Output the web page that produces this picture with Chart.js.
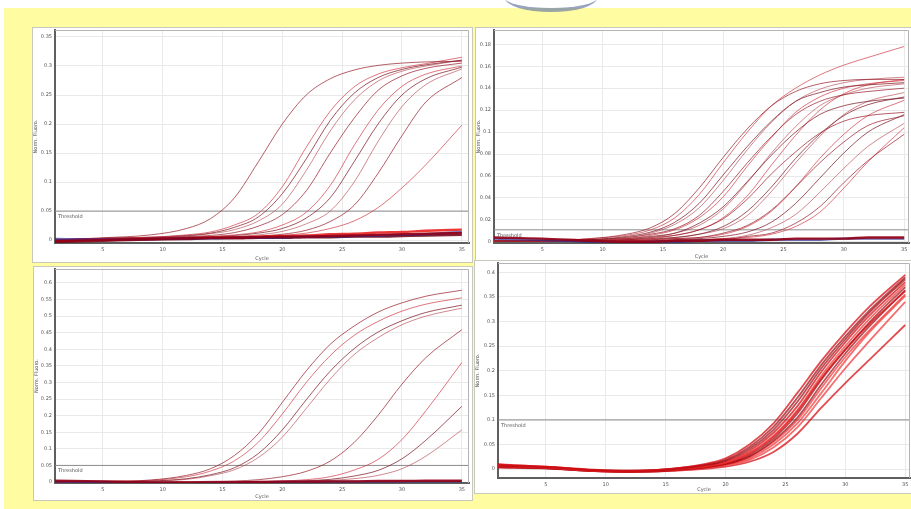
<!DOCTYPE html>
<html lang="en">
<head>
<meta charset="UTF-8">
<title>Amplification plots</title>
<script src="https://cdn.jsdelivr.net/npm/chart.js@4.4.0/dist/chart.umd.min.js"></script>
<style>
  html, body { margin: 0; padding: 0; width: 911px; height: 509px; overflow: hidden; background: #fff; }
  .backdrop { position: absolute; left: 4px; top: 8px; right: 0; bottom: 0; background: #fffca2; }
  .logo { position: absolute; left: 505px; top: -16px; width: 92px; height: 24px; border-radius: 50%;
          border-bottom: 4px solid #6f80a6; opacity: .7; }
  .panel { position: absolute; background: #fff; outline: 1px solid #c8c8bb; }
  .panel canvas { display: block; }
</style>
</head>
<body>
<div class="backdrop"></div>
<div class="logo"></div>

<div class="panel" style="left:33px; top:28px; width:439px; height:234px;"><canvas id="p1"></canvas></div>
<div class="panel" style="left:476px; top:28px; width:435px; height:232px;"><canvas id="p2"></canvas></div>
<div class="panel" style="left:34px; top:267px; width:438px; height:233px;"><canvas id="p3"></canvas></div>
<div class="panel" style="left:475px; top:261px; width:436px; height:232px;"><canvas id="p4"></canvas></div>

<script>
var cycles = [1, 5, 9, 12, 14, 16, 18, 20, 22, 24, 26, 28, 30, 32, 35];
var xTicks = [5, 10, 15, 20, 25, 30, 35];

// top left
var p1Ticks = [0, 0.05, 0.1, 0.15, 0.2, 0.25, 0.3, 0.35];
var p1Threshold = 0.05;
var p1Curves = [
  [0.0, 0.004, 0.009, 0.02, 0.037, 0.073, 0.135, 0.2, 0.25, 0.278, 0.293, 0.301, 0.305, 0.307, 0.308],
  [0.0, 0.003, 0.005, 0.009, 0.014, 0.026, 0.046, 0.092, 0.16, 0.222, 0.264, 0.286, 0.297, 0.304, 0.315],
  [0.0, 0.003, 0.005, 0.008, 0.012, 0.022, 0.04, 0.08, 0.14, 0.206, 0.253, 0.28, 0.294, 0.302, 0.31],
  [0.0, 0.003, 0.004, 0.007, 0.011, 0.018, 0.033, 0.062, 0.12, 0.188, 0.241, 0.274, 0.291, 0.3, 0.31],
  [0.0, 0.003, 0.004, 0.006, 0.008, 0.013, 0.024, 0.044, 0.085, 0.15, 0.21, 0.258, 0.283, 0.296, 0.305],
  [0.0, 0.002, 0.004, 0.005, 0.006, 0.009, 0.014, 0.026, 0.048, 0.094, 0.163, 0.224, 0.265, 0.286, 0.3],
  [0.0, 0.002, 0.004, 0.005, 0.006, 0.008, 0.012, 0.02, 0.038, 0.073, 0.135, 0.2, 0.25, 0.278, 0.298],
  [0.0, 0.002, 0.003, 0.004, 0.005, 0.006, 0.009, 0.015, 0.028, 0.05, 0.1, 0.17, 0.23, 0.268, 0.295],
  [0.0, 0.002, 0.003, 0.004, 0.004, 0.005, 0.007, 0.01, 0.017, 0.032, 0.06, 0.115, 0.18, 0.238, 0.28],
  [0.0, 0.002, 0.003, 0.004, 0.004, 0.005, 0.006, 0.008, 0.012, 0.02, 0.033, 0.056, 0.09, 0.13, 0.198]
];
var p1Flat = [
  [-0.002, 0.0, 0.002, 0.003, 0.004, 0.004, 0.005, 0.006, 0.006, 0.007, 0.008, 0.009, 0.01, 0.011, 0.012],
  [0.002, 0.001, 0.002, 0.003, 0.003, 0.004, 0.004, 0.005, 0.006, 0.006, 0.007, 0.008, 0.009, 0.01, 0.014],
  [-0.003, -0.001, 0.001, 0.002, 0.003, 0.003, 0.004, 0.004, 0.005, 0.005, 0.006, 0.006, 0.007, 0.008, 0.009],
  [0.0, 0.001, 0.002, 0.003, 0.004, 0.005, 0.006, 0.007, 0.008, 0.01, 0.011, 0.013, 0.014, 0.016, 0.018]
];

// top right
var p2Ticks = [0, 0.02, 0.04, 0.06, 0.08, 0.1, 0.12, 0.14, 0.16, 0.18];
var p2Threshold = 0.011;
var p2Curves = [
  [0.001, 0.001, 0.003, 0.007, 0.013, 0.026, 0.049, 0.077, 0.103, 0.124, 0.137, 0.144, 0.147, 0.148, 0.148],
  [0.001, 0.001, 0.003, 0.006, 0.011, 0.022, 0.043, 0.072, 0.1, 0.124, 0.14, 0.152, 0.161, 0.168, 0.178],
  [0.001, 0.001, 0.002, 0.005, 0.009, 0.018, 0.035, 0.061, 0.087, 0.11, 0.128, 0.136, 0.141, 0.143, 0.145],
  [0.001, 0.001, 0.002, 0.004, 0.008, 0.016, 0.031, 0.056, 0.084, 0.109, 0.128, 0.139, 0.145, 0.148, 0.15],
  [0.001, 0.001, 0.002, 0.004, 0.007, 0.012, 0.024, 0.046, 0.072, 0.096, 0.116, 0.128, 0.134, 0.137, 0.14],
  [0.001, 0.001, 0.002, 0.003, 0.006, 0.011, 0.022, 0.041, 0.069, 0.095, 0.118, 0.132, 0.14, 0.144, 0.147],
  [0.001, 0.001, 0.002, 0.003, 0.005, 0.008, 0.017, 0.032, 0.055, 0.079, 0.1, 0.116, 0.124, 0.128, 0.131],
  [0.001, 0.001, 0.001, 0.003, 0.004, 0.008, 0.015, 0.03, 0.054, 0.081, 0.105, 0.124, 0.134, 0.14, 0.144],
  [0.001, 0.001, 0.001, 0.002, 0.004, 0.006, 0.011, 0.021, 0.039, 0.062, 0.082, 0.099, 0.11, 0.115, 0.118],
  [0.001, 0.001, 0.001, 0.002, 0.003, 0.006, 0.011, 0.022, 0.042, 0.07, 0.097, 0.12, 0.135, 0.143, 0.148],
  [0.001, 0.001, 0.001, 0.002, 0.003, 0.004, 0.007, 0.014, 0.028, 0.05, 0.076, 0.098, 0.115, 0.125, 0.132],
  [0.001, 0.001, 0.001, 0.002, 0.002, 0.004, 0.007, 0.012, 0.024, 0.046, 0.072, 0.096, 0.116, 0.128, 0.136],
  [0.001, 0.001, 0.001, 0.001, 0.002, 0.003, 0.004, 0.008, 0.015, 0.029, 0.05, 0.072, 0.091, 0.106, 0.115],
  [0.001, 0.001, 0.001, 0.001, 0.002, 0.003, 0.004, 0.007, 0.014, 0.028, 0.05, 0.076, 0.098, 0.115, 0.129],
  [0.001, 0.001, 0.001, 0.001, 0.001, 0.002, 0.003, 0.005, 0.009, 0.018, 0.035, 0.058, 0.081, 0.1, 0.116],
  [0.001, 0.001, 0.001, 0.001, 0.001, 0.002, 0.002, 0.003, 0.006, 0.013, 0.025, 0.045, 0.067, 0.087, 0.108],
  [0.001, 0.001, 0.001, 0.001, 0.001, 0.001, 0.002, 0.002, 0.005, 0.008, 0.017, 0.032, 0.054, 0.074, 0.098],
  [0.001, 0.001, 0.001, 0.001, 0.001, 0.001, 0.002, 0.003, 0.004, 0.007, 0.014, 0.027, 0.049, 0.073, 0.104]
];
var p2Flat = [
  [0.004, 0.003, 0.001, 0.0, 0.0, 0.001, 0.001, 0.002, 0.002, 0.002, 0.003, 0.003, 0.003, 0.004, 0.004],
  [0.003, 0.002, 0.0, -0.001, 0.0, 0.0, 0.001, 0.001, 0.001, 0.002, 0.002, 0.002, 0.003, 0.003, 0.003]
];

// bottom left
var p3Ticks = [0, 0.05, 0.1, 0.15, 0.2, 0.25, 0.3, 0.35, 0.4, 0.45, 0.5, 0.55, 0.6];
var p3Threshold = 0.05;
var p3Curves = [
  [0.001, 0.002, 0.006, 0.02, 0.04, 0.08, 0.146, 0.24, 0.335, 0.415, 0.47, 0.512, 0.54, 0.56, 0.578],
  [0.001, 0.002, 0.005, 0.016, 0.033, 0.064, 0.12, 0.205, 0.3, 0.381, 0.442, 0.484, 0.515, 0.536, 0.555],
  [0.001, 0.001, 0.003, 0.01, 0.022, 0.043, 0.086, 0.157, 0.248, 0.334, 0.402, 0.452, 0.486, 0.511, 0.533],
  [0.001, 0.001, 0.003, 0.008, 0.019, 0.037, 0.074, 0.135, 0.222, 0.31, 0.384, 0.435, 0.474, 0.5, 0.524],
  [0.0, 0.0, 0.001, 0.001, 0.002, 0.003, 0.007, 0.016, 0.032, 0.063, 0.119, 0.201, 0.295, 0.375, 0.459],
  [0.0, 0.0, 0.0, 0.001, 0.001, 0.001, 0.002, 0.003, 0.007, 0.016, 0.036, 0.068, 0.128, 0.215, 0.36],
  [0.0, 0.0, 0.0, 0.0, 0.001, 0.001, 0.001, 0.002, 0.004, 0.008, 0.018, 0.035, 0.07, 0.126, 0.228],
  [0.0, 0.0, 0.0, 0.0, 0.0, 0.001, 0.001, 0.001, 0.002, 0.005, 0.01, 0.02, 0.04, 0.078, 0.157]
];
var p3Flat = [
  [0.004, 0.002, -0.002, -0.003, -0.002, -0.001, 0.0, 0.001, 0.001, 0.002, 0.002, 0.003, 0.003, 0.004, 0.004],
  [0.002, 0.0, -0.003, -0.004, -0.003, -0.002, -0.001, 0.0, 0.0, 0.001, 0.001, 0.001, 0.002, 0.002, 0.002]
];

// bottom right
var p4Ticks = [0, 0.05, 0.1, 0.15, 0.2, 0.25, 0.3, 0.35, 0.4];
var p4Threshold = 0.1;
var p4Curves = [
  [0.009, 0.005, -0.002, -0.004, -0.002, 0.002, 0.009, 0.022, 0.05, 0.093, 0.155, 0.22, 0.278, 0.33, 0.395],
  [0.007, 0.004, -0.002, -0.004, -0.003, 0.001, 0.007, 0.017, 0.041, 0.08, 0.137, 0.205, 0.264, 0.318, 0.386],
  [0.006, 0.003, -0.003, -0.004, -0.003, 0.0, 0.005, 0.013, 0.033, 0.068, 0.12, 0.19, 0.25, 0.305, 0.375],
  [0.004, 0.002, -0.004, -0.005, -0.004, -0.001, 0.004, 0.012, 0.032, 0.066, 0.118, 0.185, 0.243, 0.295, 0.362],
  [0.005, 0.002, -0.004, -0.005, -0.004, -0.001, 0.003, 0.01, 0.026, 0.058, 0.105, 0.172, 0.235, 0.29, 0.364],
  [0.008, 0.004, -0.003, -0.005, -0.004, -0.002, 0.002, 0.009, 0.022, 0.05, 0.093, 0.155, 0.22, 0.278, 0.352],
  [0.01, 0.005, -0.001, -0.003, -0.002, 0.001, 0.006, 0.015, 0.037, 0.074, 0.128, 0.198, 0.258, 0.312, 0.38],
  [0.003, 0.001, -0.004, -0.006, -0.005, -0.002, 0.003, 0.011, 0.029, 0.062, 0.113, 0.182, 0.243, 0.298, 0.37],
  [0.006, 0.003, -0.003, -0.005, -0.004, -0.002, 0.002, 0.008, 0.019, 0.044, 0.085, 0.145, 0.205, 0.26, 0.34],
  [0.004, 0.002, -0.003, -0.005, -0.005, -0.003, 0.0, 0.005, 0.015, 0.035, 0.072, 0.125, 0.175, 0.222, 0.293],
  [0.008, 0.004, -0.002, -0.003, -0.002, 0.002, 0.008, 0.019, 0.045, 0.086, 0.145, 0.212, 0.27, 0.322, 0.39],
  [0.005, 0.003, -0.003, -0.004, -0.004, -0.001, 0.003, 0.01, 0.025, 0.055, 0.1, 0.165, 0.228, 0.282, 0.355]
];

var darkReds = ['rgba(150,25,40,0.7)', 'rgba(205,45,55,0.65)', 'rgba(120,15,30,0.7)', 'rgba(175,60,70,0.6)'];
var flatColors = ['rgba(150,0,20,0.9)', 'rgba(40,40,140,0.7)', 'rgba(110,0,20,0.85)', 'rgba(235,20,20,0.85)'];
var brightReds = ['rgba(215,15,20,0.75)', 'rgba(160,5,15,0.7)', 'rgba(240,50,50,0.7)'];

// frame round the plot and the threshold name
var framePlugin = {
  id: 'frame',
  afterDraw: function (chart, args, o) {
    var a = chart.chartArea, ctx = chart.ctx;
    ctx.save();
    ctx.strokeStyle = '#b4b4b4';
    ctx.lineWidth = 1;
    ctx.beginPath();
    ctx.moveTo(a.left, a.top + 0.5);
    ctx.lineTo(a.right - 0.5, a.top + 0.5);
    ctx.lineTo(a.right - 0.5, a.bottom);
    ctx.stroke();
    var y = chart.scales.y.getPixelForValue(o.threshold);
    ctx.font = '5px "DejaVu Sans"';
    ctx.fillStyle = '#555';
    ctx.fillText('Threshold', a.left + 3, y + 7);
    ctx.restore();
  }
};

function toPoints(vals) {
  return vals.map(function (v, k) { return { x: cycles[k], y: v }; });
}

function makePanel(id, p) {
  var sets = [];
  p.flat.forEach(function (vals, i) {
    sets.push({ data: toPoints(vals), borderColor: flatColors[i % flatColors.length], borderWidth: 2.4 });
  });
  p.curves.forEach(function (vals, i) {
    sets.push({ data: toPoints(vals), borderColor: p.colors[i % p.colors.length], borderWidth: p.width });
  });
  sets.push({
    data: [{ x: p.xMin, y: p.threshold }, { x: p.xMax, y: p.threshold }],
    borderColor: '#8c8c8c', borderWidth: 1
  });

  var tickFont = { family: 'DejaVu Sans', size: 5 };
  new Chart(document.getElementById(id), {
    type: 'line',
    data: { datasets: sets },
    options: {
      responsive: true,
      maintainAspectRatio: false,
      animation: false,
      elements: { point: { radius: 0 }, line: { cubicInterpolationMode: 'monotone', fill: false } },
      layout: { padding: { top: p.padTop, right: p.padRight, left: 0, bottom: 0 } },
      plugins: { legend: { display: false }, tooltip: { enabled: false }, frame: { threshold: p.threshold } },
      scales: {
        x: {
          type: 'linear', min: p.xMin, max: p.xMax,
          afterBuildTicks: function (s) { s.ticks = xTicks.map(function (v) { return { value: v }; }); },
          afterFit: function (s) { s.height = p.xHeight; s.paddingLeft = 0; s.paddingRight = 0; },
          grid: { color: '#e9e9e9', drawTicks: false },
          border: { color: '#5f5f5f', width: 2 },
          ticks: { font: tickFont, color: '#555', padding: 4, maxRotation: 0 },
          title: { display: true, text: 'Cycle', font: tickFont, color: '#555', padding: 0 }
        },
        y: {
          min: p.yMin, max: p.yMax,
          afterBuildTicks: function (s) { s.ticks = p.yTicks.map(function (v) { return { value: v }; }); },
          afterFit: function (s) { s.width = p.yWidth; s.paddingTop = 0; s.paddingBottom = 0; },
          grid: { color: '#e9e9e9', drawTicks: false },
          border: { color: '#5f5f5f', width: 2 },
          ticks: {
            font: tickFont, color: '#555', padding: 3,
            callback: function (v) { return String(+v.toFixed(3)); }
          },
          title: { display: true, text: 'Norm. Fluoro.', font: tickFont, color: '#555', padding: 0 }
        }
      }
    },
    plugins: [framePlugin]
  });
}

makePanel('p1', { curves: p1Curves, flat: p1Flat, colors: darkReds, width: 1, threshold: p1Threshold,
  yTicks: p1Ticks, yMin: -0.005, yMax: 0.362, xMin: 1, xMax: 35.6,
  yWidth: 22, xHeight: 19, padTop: 2, padRight: 3 });
makePanel('p2', { curves: p2Curves, flat: p2Flat, colors: darkReds, width: 1, threshold: p2Threshold,
  yTicks: p2Ticks, yMin: -0.001, yMax: 0.193, xMin: 1, xMax: 35.4,
  yWidth: 18, xHeight: 17, padTop: 2, padRight: 2 });
makePanel('p3', { curves: p3Curves, flat: p3Flat, colors: darkReds, width: 1, threshold: p3Threshold,
  yTicks: p3Ticks, yMin: -0.003, yMax: 0.642, xMin: 1, xMax: 35.6,
  yWidth: 21, xHeight: 17, padTop: 2, padRight: 3 });
makePanel('p4', { curves: p4Curves, flat: [], colors: brightReds, width: 1.8, threshold: p4Threshold,
  yTicks: p4Ticks, yMin: -0.018, yMax: 0.419, xMin: 1, xMax: 35.4,
  yWidth: 23, xHeight: 15, padTop: 2, padRight: 1 });
</script>
</body>
</html>
